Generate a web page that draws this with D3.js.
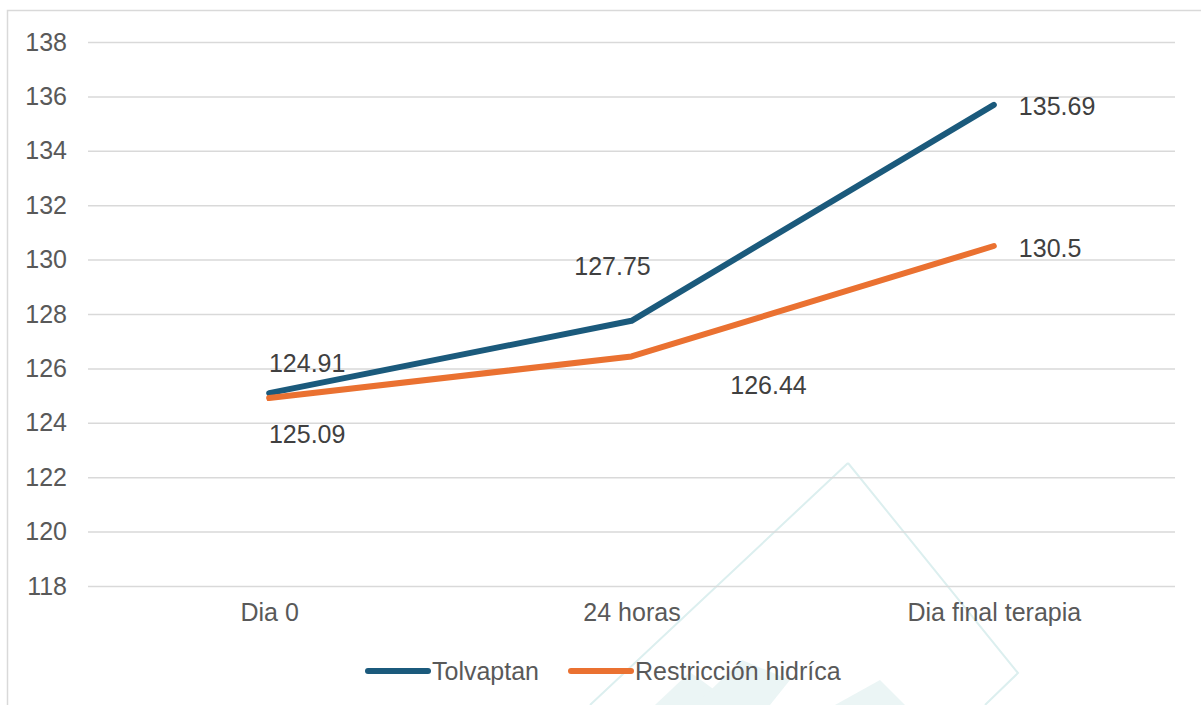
<!DOCTYPE html>
<html>
<head>
<meta charset="utf-8">
<script src="https://cdn.jsdelivr.net/npm/d3@7.9.0/dist/d3.min.js"></script>
<style>
  html, body { margin: 0; padding: 0; background: #fff; }
  svg { display: block; font-family: 'Liberation Sans', Arial, sans-serif; }
</style>
</head>
<body>
<svg id="chart" width="1201" height="705"></svg>
<script>
const categories = ['Dia 0', '24 horas', 'Dia final terapia'];
const tolvaptan = [125.09, 127.75, 135.69];
const restriccion = [124.91, 126.44, 130.5];
const yTicks = [118, 120, 122, 124, 126, 128, 130, 132, 134, 136, 138];

const series = [
  { name: 'Tolvaptan', values: tolvaptan, color: '#1b5a7c',
    // label offsets in px from each point
    offsets: [[38, 41], [-19, -55], [25, 1]] },
  { name: 'Restricción hidríca', values: restriccion, color: '#ea7131',
    offsets: [[38, -35], [137, 29], [25, 2]] },
];

const fontSize = '25px';
const plot = { left: 88, right: 1175, top: 42, bottom: 586 };

const svg = d3.select('#chart');

// faint watermark behind the chart
const wm = svg.append('g').attr('fill', 'none').attr('stroke', '#dcefef').attr('stroke-width', 2);
wm.append('path').attr('d', 'M848,463 L1018,673 L985,705 M848,463 L590,705');
const wmFill = svg.append('g').attr('fill', '#ebf5f5');
wmFill.append('path').attr('d', 'M655,705 L690,672 L735,705 Z');
wmFill.append('path').attr('d', 'M695,705 L742,660 L790,680 L770,705 Z');
wmFill.append('path').attr('d', 'M835,705 L880,680 L905,705 Z');

// outer border
svg.append('rect')
  .attr('x', 7.5).attr('y', 10.5)
  .attr('width', 1210).attr('height', 710)
  .attr('fill', 'none')
  .attr('stroke', '#d9d9d9')
  .attr('stroke-width', 1.5);

const x = d3.scalePoint()
  .domain(categories)
  .range([plot.left, plot.right])
  .padding(0.5);

const y = d3.scaleLinear()
  .domain([118, 138])
  .range([plot.bottom, plot.top]);

// gridlines
svg.append('g')
  .attr('transform', `translate(${plot.left},0)`)
  .call(d3.axisLeft(y).tickValues(yTicks).tickFormat('').tickSize(-(plot.right - plot.left)))
  .call((g) => g.select('.domain').remove())
  .call((g) => g.selectAll('line').attr('stroke', '#d9d9d9').attr('stroke-width', 1.5));

// y axis labels
svg.append('g')
  .attr('transform', `translate(${plot.left},0)`)
  .call(d3.axisLeft(y).tickValues(yTicks).tickSize(0).tickPadding(21))
  .call((g) => g.select('.domain').remove())
  .call((g) => g.selectAll('text')
    .attr('fill', '#595959')
    .style('font-size', fontSize)
    .style('font-family', "'Liberation Sans', Arial, sans-serif"));

// x axis labels
svg.append('g')
  .attr('transform', `translate(0,${plot.bottom})`)
  .call(d3.axisBottom(x).tickSize(0).tickPadding(17))
  .call((g) => g.select('.domain').remove())
  .call((g) => g.selectAll('text')
    .attr('fill', '#595959')
    .style('font-size', fontSize)
    .style('font-family', "'Liberation Sans', Arial, sans-serif"));

const line = d3.line()
  .x((d, i) => x(categories[i]))
  .y((d) => y(d));

series.forEach((s) => {
  svg.append('path')
    .datum(s.values)
    .attr('fill', 'none')
    .attr('stroke', s.color)
    .attr('stroke-width', 6)
    .attr('stroke-linejoin', 'round')
    .attr('stroke-linecap', 'round')
    .attr('d', line);
});

// data labels
series.forEach((s) => {
  svg.append('g')
    .selectAll('text')
    .data(s.values)
    .join('text')
    .attr('x', (d, i) => x(categories[i]) + s.offsets[i][0])
    .attr('y', (d, i) => y(d) + s.offsets[i][1])
    .attr('text-anchor', (d, i) => (i === 2 ? 'start' : 'middle'))
    .attr('dominant-baseline', 'central')
    .attr('fill', '#404040')
    .style('font-size', fontSize)
    .text((d) => d);
});

// legend
const legend = svg.append('g').attr('transform', 'translate(0,671)');
const legendX = [368, 571];
series.forEach((s, i) => {
  const g = legend.append('g').attr('transform', `translate(${legendX[i]},0)`);
  g.append('line')
    .attr('x1', 0).attr('x2', 60)
    .attr('stroke', s.color)
    .attr('stroke-width', 6)
    .attr('stroke-linecap', 'round');
  g.append('text')
    .attr('x', 64)
    .attr('dominant-baseline', 'central')
    .attr('fill', '#595959')
    .style('font-size', fontSize)
    .text(s.name);
});
</script>
</body>
</html>
